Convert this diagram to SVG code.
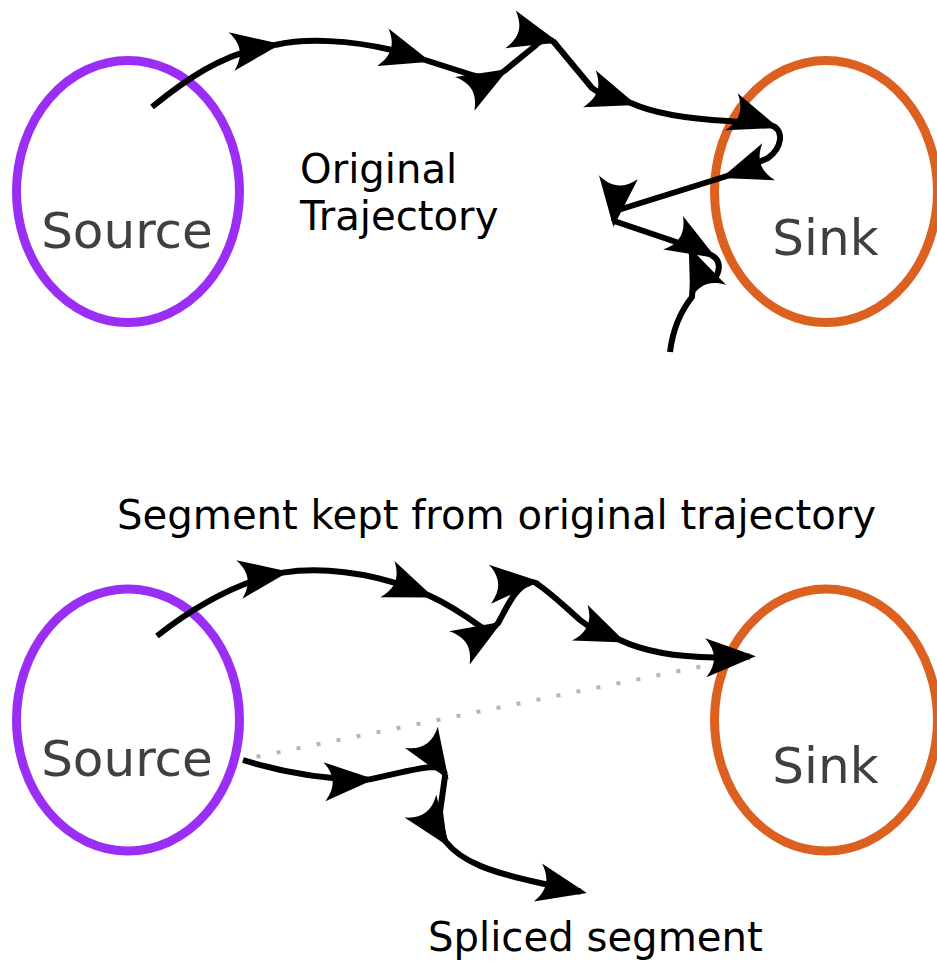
<svg xmlns="http://www.w3.org/2000/svg" width="937" height="962" viewBox="0 0 937 962">
  <style>
    .src { fill: none; stroke: #9a2ef5; stroke-width: 9; }
    .snk { fill: none; stroke: #dc6020; stroke-width: 9; }
    .nlabel { font-family: "DejaVu Sans", "Liberation Sans", sans-serif; font-size: 50px; fill: #404040; text-anchor: middle; }
    .label { font-family: "DejaVu Sans", "Liberation Sans", sans-serif; font-size: 40.2px; fill: #000; }
    .traj { fill: none; stroke: #000; stroke-width: 6; stroke-linejoin: round; marker-end: url(#head); }
    .plain { fill: none; stroke: #000; stroke-width: 6; stroke-linejoin: round; }
    .direct { fill: none; stroke: #b5b5b5; stroke-width: 4; stroke-dasharray: 4 16.4; stroke-dashoffset: 4; }
  </style>
  <defs>
    <!-- curved-back arrowhead, tip slightly ahead of the path end -->
    <marker id="head" markerUnits="userSpaceOnUse" orient="auto" overflow="visible"
            markerWidth="60" markerHeight="44" refX="0" refY="0">
      <path d="M6,0 L-44,-19.5 C-33,-6 -33,6 -44,19.5 Z" fill="#000"/>
    </marker>
  </defs>

  <rect width="937" height="962" fill="#fff"/>

  <!-- upper scene: original trajectory -->
  <g id="source-original">
    <ellipse class="src" cx="128" cy="191.5" rx="111.5" ry="131"/>
    <text class="nlabel" x="127" y="248">Source</text>
  </g>
  <g id="sink-original">
    <ellipse class="snk" cx="826" cy="191.5" rx="111.5" ry="131"/>
    <text class="nlabel" x="825.5" y="255">Sink</text>
  </g>
  <g id="label-original">
    <text class="label" x="300" y="183">Original</text>
    <text class="label" x="300" y="229.5">Trajectory</text>
  </g>

  <!-- lower scene: kept segment plus spliced segment -->
  <g id="label-kept">
    <text class="label" x="117" y="528.5">Segment kept from original trajectory</text>
  </g>
  <g id="source-spliced">
    <ellipse class="src" cx="128" cy="720" rx="111.5" ry="131"/>
    <text class="nlabel" x="127" y="776">Source</text>
  </g>
  <g id="sink-spliced">
    <ellipse class="snk" cx="826" cy="720" rx="111.5" ry="131"/>
    <text class="nlabel" x="825.5" y="783">Sink</text>
  </g>
  <g id="label-spliced">
    <text class="label" x="428" y="951">Spliced segment</text>
  </g>

  <g id="connectors">
    <!-- straight source-to-sink reference -->
    <path class="direct" d="M240.5,760 L712,664.3"/>

    <!-- original trajectory -->
    <path class="traj" d="M152,107 C183,82 222,53 271,45.6 L275,45"/>
    <path class="traj" d="M275,45 C305,38 350,40 392,50 L425,60"/>
    <path class="traj" d="M425,60 L472,75 Q485,79 499.5,74 L503,72"/>
    <path class="traj" d="M503,72 L535,46 Q539,40 549,39.9 L553,41"/>
    <path class="traj" d="M553,41 L592,88 Q604,98 627.2,101.7 L631,103"/>
    <path class="traj" d="M631,103 C655,114 690,119 728,121 L769.2,124.7 L773,126"/>
    <path class="traj" d="M773,126 C784,131 782,148 768,158 L730.8,174.7 L727,176"/>
    <path class="traj" d="M727,176 L615,211 L614,221"/>
    <path class="traj" d="M614,221 L682,244 Q697,249 707.6,253 L711,255"/>
    <path class="plain" d="M711,255 C720,259 722,270 713,281"/>
    <path class="traj" d="M670,352 C673,328 680,312 692,297 L694.4,259.8 L691.1,252"/>

    <!-- kept segment -->
    <path class="traj" d="M157,636 C190,610 230,585 279,573.2 L282.8,572.6"/>
    <path class="traj" d="M282.8,572.6 C320,567 368,572 410,588 L428.3,595.2"/>
    <path class="traj" d="M428,595 C450,605 466,616 481,627 Q488,630 493.5,626.9 L496.9,624.8"/>
    <path class="traj" d="M497,624.8 C507,608 514,588 530,582.1 L533.9,581.9"/>
    <path class="traj" d="M534,582 C548,590 565,607 580,620 Q596,633 616.5,638.5 L620.2,640.1"/>
    <path class="traj" d="M620,640 C645,652 680,657 715,657.5 L749.8,656.5"/>

    <!-- spliced segment -->
    <path class="traj" d="M243,760 C275,770 315,779 364.4,779.8 L368.4,779.6"/>
    <path class="traj" d="M368.4,779.6 C392,775 415,768 432,767 Q439,767 443.1,771 L445.3,774.4"/>
    <path class="traj" d="M445.3,774.4 L440,812 L443.5,838.5 L446,842"/>
    <path class="traj" d="M446,842 C462,862 490,872 540,883 L580.9,891.8"/>
  </g>
</svg>
